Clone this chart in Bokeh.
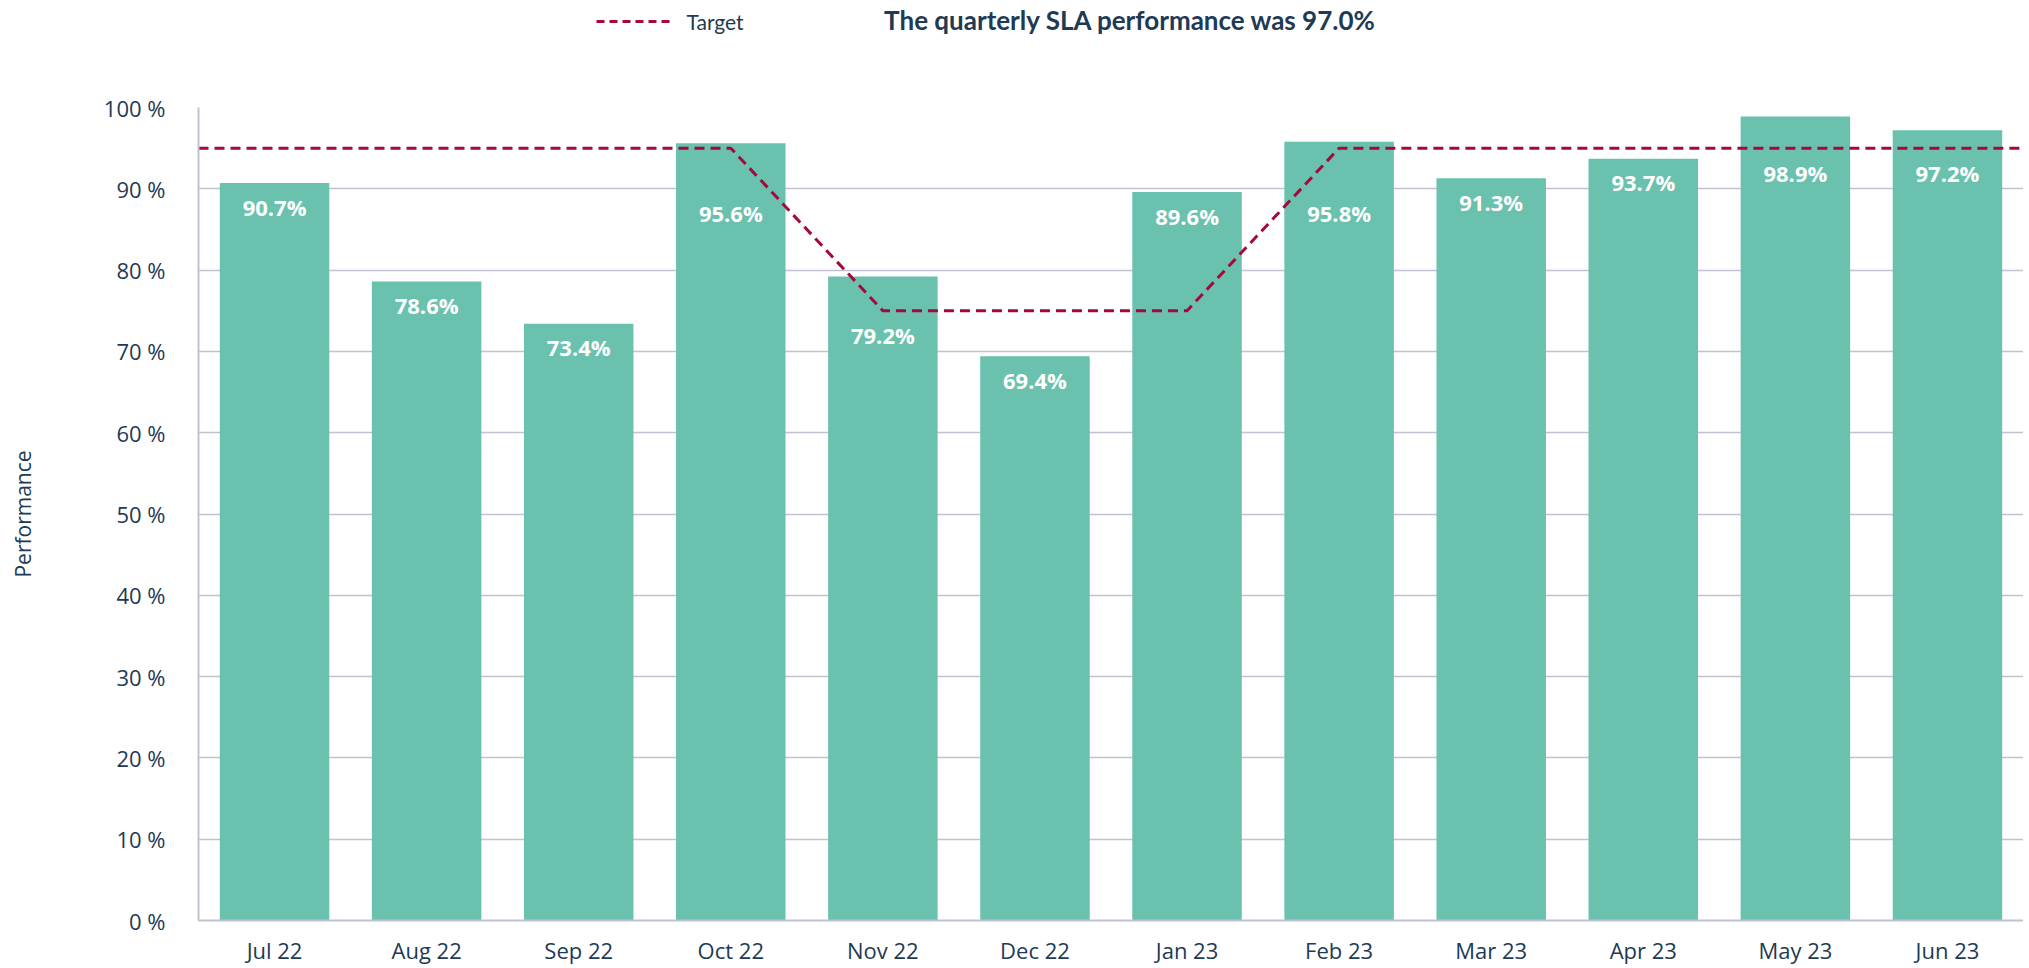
import numpy as np
from bokeh.plotting import figure
from bokeh.layouts import column
from bokeh.models import Range1d, FixedTicker, Label, ColumnDataSource
from bokeh.core.properties import value
from bokeh.embed import file_html
from bokeh.resources import INLINE

# ---- data ----
months = ["Jul 22", "Aug 22", "Sep 22", "Oct 22", "Nov 22", "Dec 22",
          "Jan 23", "Feb 23", "Mar 23", "Apr 23", "May 23", "Jun 23"]
performance = [90.7, 78.6, 73.4, 95.6, 79.2, 69.4, 89.6, 95.8, 91.3, 93.7, 98.9, 97.2]
target = [95, 95, 95, 95, 75, 75, 75, 95, 95, 95, 95, 95]
y_ticks = [0, 10, 20, 30, 40, 50, 60, 70, 80, 90, 100]
title_text = "The quarterly SLA performance was 97.0%"
legend_text = "Target"
y_title = "Performance"

NAVY = "#1e3a54"
TEAL = "#6ac1ad"
CRIMSON = "#a4093a"
GRID = "#c0c3cf"
NUM_FONT = "Open Sans"
TITLE_FONT = "Lato"

# ---- layout constants (pixels) ----
LEFT = 198
FRAME_W = 1825
FRAME_H = 813
TOP_H = 92
W = LEFT + FRAME_W
TITLE_X, TITLE_Y = 1130, 19
KEY_X0, KEY_X1, KEY_Y = 596, 672, 21
KEY_TEXT_X = 686

xs = np.arange(len(months))

# target line extended to plot edges
line_x = np.concatenate([[xs[0] - 0.5], xs, [xs[-1] + 0.5]])
line_y = np.concatenate([[target[0]], target, [target[-1]]])

# label positions: just below bar top, or pushed below target line if overlapping
label_y = []
for c, v in zip(xs, performance):
    normal = v - 2.9
    span = np.interp(np.linspace(c - 0.25, c + 0.25, 21), line_x, line_y)
    lo, hi = span.min(), span.max()
    if hi >= normal - 2.5 and lo <= normal + 2.5:
        label_y.append(lo - 3.0)
    else:
        label_y.append(normal)

src = ColumnDataSource(dict(x=xs, top=performance, ly=label_y,
                            txt=[f"{v:.1f}%" for v in performance]))

# ---------- header (title + legend key) ----------
hdr = figure(width=W, height=TOP_H, output_backend="svg", toolbar_location=None,
             x_range=Range1d(LEFT, W), y_range=Range1d(TOP_H, 0),
             x_axis_location=None, y_axis_location=None, min_border=0,
             min_border_left=LEFT)
hdr.outline_line_color = None
hdr.grid.visible = False
hdr.add_layout(Label(x=TITLE_X, y=TITLE_Y, text=title_text, text_align="center",
                     text_baseline="middle", text_color=NAVY, text_font=TITLE_FONT,
                     text_font_size="26px", text_font_style="bold"))
hdr.line([KEY_X0, KEY_X1], [KEY_Y, KEY_Y], line_color=CRIMSON, line_width=3,
         line_dash="8 5")
hdr.add_layout(Label(x=KEY_TEXT_X, y=KEY_Y, text=legend_text, text_align="left",
                     text_baseline="middle", text_color=NAVY, text_font=TITLE_FONT,
                     text_font_size="21px"))

# ---------- main chart ----------
p = figure(frame_width=FRAME_W, frame_height=FRAME_H, output_backend="svg",
           toolbar_location=None,
           x_range=Range1d(-0.5, 11.5), y_range=Range1d(0, 100),
           min_border_left=LEFT, min_border_right=0, min_border_top=15, min_border_bottom=0)
p.outline_line_color = None

p.vbar(x="x", top="top", width=0.72, bottom=0, source=src, color=TEAL, line_color=None)
p.line(line_x, line_y, line_color=CRIMSON, line_width=3, line_dash="10 6")
p.text(x="x", y="ly", text="txt", source=src, text_align="center", text_baseline="middle",
       text_color="white", text_font=value(NUM_FONT), text_font_size="22px",
       text_font_style="bold")

p.xaxis.ticker = FixedTicker(ticks=list(xs))
p.xaxis.major_label_overrides = {int(i): m for i, m in zip(xs, months)}
p.yaxis.ticker = FixedTicker(ticks=y_ticks)
p.yaxis.major_label_overrides = {t: f"{t} %" for t in y_ticks}
for ax in (p.xaxis[0], p.yaxis[0]):
    ax.axis_line_color = GRID
    ax.axis_line_width = 2
    ax.major_tick_line_color = None
    ax.minor_tick_line_color = None
    ax.major_label_text_color = NAVY
    ax.major_label_text_font = NUM_FONT
    ax.major_label_text_font_size = "22px"
p.xaxis.major_label_standoff = 8
p.yaxis.major_label_standoff = 27
p.yaxis.axis_label = y_title
p.yaxis.axis_label_text_font = NUM_FONT
p.yaxis.axis_label_text_font_size = "21px"
p.yaxis.axis_label_text_font_style = "normal"
p.yaxis.axis_label_text_color = NAVY
p.yaxis.axis_label_standoff = 64

p.xgrid.grid_line_color = None
p.ygrid.grid_line_color = GRID
p.ygrid.grid_line_width = 1.5

open("out.html", "w").write(file_html(column(hdr, p, spacing=0), INLINE))
